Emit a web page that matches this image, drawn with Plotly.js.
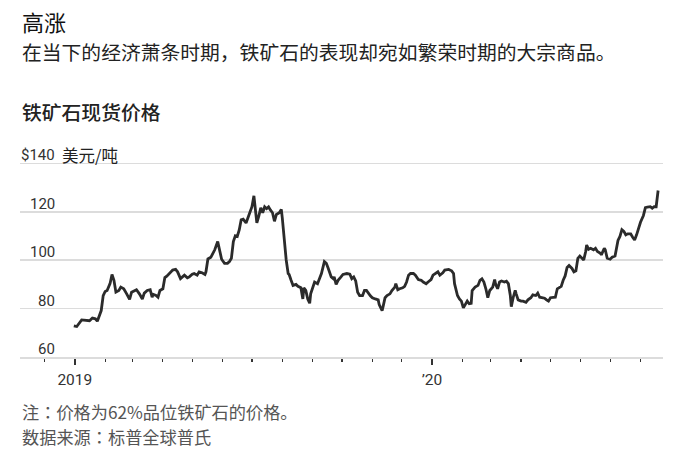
<!DOCTYPE html>
<html>
<head>
<meta charset="utf-8">
<script src="https://cdn.plot.ly/plotly-3.0.1.min.js"></script>
<style>
html,body{margin:0;padding:0;background:#fff;}
#chart{width:677px;height:465px;}
</style>
</head>
<body>
<div id="chart"></div>
<script>
// ---- data ----
const dates = [
'2018-12-31','2019-01-03','2019-01-08','2019-01-12','2019-01-16','2019-01-19','2019-01-22','2019-01-24','2019-01-26','2019-01-28',
'2019-01-30','2019-02-01','2019-02-03','2019-02-06','2019-02-08','2019-02-10','2019-02-12','2019-02-15','2019-02-17','2019-02-20',
'2019-02-23','2019-02-26','2019-02-28','2019-03-03','2019-03-05','2019-03-08','2019-03-11','2019-03-13','2019-03-16','2019-03-19',
'2019-03-21','2019-03-22','2019-03-25','2019-03-27','2019-03-29','2019-04-01','2019-04-03','2019-04-05','2019-04-08','2019-04-11',
'2019-04-14','2019-04-16','2019-04-19','2019-04-21','2019-04-23','2019-04-26','2019-04-28','2019-05-01','2019-05-03','2019-05-06',
'2019-05-08','2019-05-11','2019-05-14','2019-05-15','2019-05-17','2019-05-20','2019-05-23','2019-05-24','2019-05-27','2019-05-29',
'2019-05-31','2019-06-03','2019-06-06','2019-06-08','2019-06-10','2019-06-12','2019-06-14','2019-06-16','2019-06-18','2019-06-20',
'2019-06-22','2019-06-25','2019-06-27','2019-06-29','2019-07-01','2019-07-03','2019-07-04','2019-07-06','2019-07-08','2019-07-10',
'2019-07-12','2019-07-14','2019-07-16','2019-07-18','2019-07-20','2019-07-22','2019-07-24','2019-07-26','2019-07-29','2019-07-31',
'2019-08-01','2019-08-03','2019-08-05','2019-08-07','2019-08-08','2019-08-10','2019-08-12','2019-08-15','2019-08-17','2019-08-20',
'2019-08-22','2019-08-23','2019-08-25','2019-08-27','2019-08-29','2019-08-30','2019-09-02','2019-09-03','2019-09-06','2019-09-08',
'2019-09-10','2019-09-13','2019-09-15','2019-09-17','2019-09-20','2019-09-22','2019-09-23','2019-09-25','2019-09-27','2019-09-30',
'2019-10-02','2019-10-06','2019-10-09','2019-10-11','2019-10-13','2019-10-15','2019-10-17','2019-10-19','2019-10-22','2019-10-24',
'2019-10-26','2019-10-30','2019-11-01','2019-11-04','2019-11-07','2019-11-08','2019-11-11','2019-11-12','2019-11-14','2019-11-16',
'2019-11-19','2019-11-21','2019-11-24','2019-11-25','2019-11-27','2019-11-29','2019-12-02','2019-12-04','2019-12-06','2019-12-08',
'2019-12-10','2019-12-13','2019-12-15','2019-12-18','2019-12-21','2019-12-23','2019-12-26','2019-12-28','2019-12-31','2020-01-02',
'2020-01-05','2020-01-07','2020-01-09','2020-01-12','2020-01-14','2020-01-16','2020-01-18','2020-01-21','2020-01-23','2020-01-24',
'2020-01-27','2020-01-29','2020-01-31','2020-02-02','2020-02-04','2020-02-06','2020-02-08','2020-02-10','2020-02-11','2020-02-14',
'2020-02-17','2020-02-19','2020-02-21','2020-02-23','2020-02-25','2020-02-27','2020-02-29','2020-03-03','2020-03-05','2020-03-06',
'2020-03-08','2020-03-10','2020-03-12','2020-03-15','2020-03-17','2020-03-19','2020-03-21','2020-03-22','2020-03-24','2020-03-26',
'2020-03-27','2020-03-29','2020-04-01','2020-04-03','2020-04-06','2020-04-08','2020-04-11','2020-04-13','2020-04-16','2020-04-18',
'2020-04-20','2020-04-22','2020-04-25','2020-04-27','2020-04-29','2020-05-01','2020-05-04','2020-05-06','2020-05-08','2020-05-10',
'2020-05-12','2020-05-14','2020-05-16','2020-05-18','2020-05-20','2020-05-23','2020-05-25','2020-05-27','2020-05-29','2020-05-31',
'2020-06-02','2020-06-04','2020-06-06','2020-06-07','2020-06-09','2020-06-11','2020-06-14','2020-06-16','2020-06-18','2020-06-21',
'2020-06-22','2020-06-25','2020-06-26','2020-06-28','2020-07-01','2020-07-03','2020-07-06','2020-07-08','2020-07-09','2020-07-11',
'2020-07-13','2020-07-15','2020-07-17','2020-07-19','2020-07-22','2020-07-24','2020-07-26','2020-07-28','2020-07-30','2020-08-01',
'2020-08-04','2020-08-06','2020-08-08','2020-08-11','2020-08-13','2020-08-15','2020-08-17','2020-08-18','2020-08-19'
];
const prices = [
72.9,72.6,75.3,75.0,75.0,76.1,75.8,74.8,76.7,79.2,
85.4,87.1,87.5,90.3,94.1,91.7,86.8,87.5,88.9,88.2,
86.1,83.8,86.8,87.5,87.8,86.1,84.0,86.4,87.5,87.8,
84.7,85.9,85.4,84.7,87.5,88.2,92.8,93.4,94.8,95.9,
96.2,95.2,92.4,93.1,93.8,92.7,93.1,94.2,94.5,93.8,
95.2,94.8,94.1,95.2,100.5,101.2,103.6,104.3,107.7,104.5,
100.4,98.7,98.7,99.4,100.8,107.7,110.1,109.8,112.5,116.7,
117.0,115.4,117.5,119.9,122.1,126.6,123.1,115.4,118.2,121.7,
119.6,122.1,121.3,122.0,120.7,119.6,116.1,118.9,119.6,121.0,
117.5,108.4,100.1,94.5,94.1,91.7,89.6,90.0,89.2,88.6,
84.0,88.6,87.5,84.0,82.2,86.1,90.0,91.0,90.3,92.4,
94.5,99.4,98.7,96.6,93.1,92.4,93.1,90.0,91.7,93.1,
94.1,94.5,94.2,92.4,93.1,91.4,86.8,85.4,85.4,87.5,
87.5,85.3,84.5,84.0,83.6,81.7,79.2,80.8,84.5,85.4,
86.1,87.5,88.9,90.3,87.8,88.2,88.6,89.2,91.0,93.8,
94.5,94.5,93.8,92.0,91.7,91.0,90.3,91.0,92.0,93.8,
94.5,95.2,93.8,94.8,95.9,96.2,96.2,95.6,94.5,90.3,
85.4,84.0,83.1,80.3,81.9,83.1,82.0,82.2,87.5,88.9,
89.6,91.7,92.3,91.0,88.2,84.5,87.5,88.9,92.0,90.0,
88.2,91.0,91.4,91.0,91.3,90.3,85.4,80.8,84.7,87.5,
86.1,83.6,83.1,83.1,82.6,83.6,84.5,85.7,85.4,86.4,
84.7,84.5,84.3,83.6,83.1,84.5,84.7,84.7,88.2,88.6,
89.2,91.7,93.5,97.0,97.8,96.6,95.2,95.6,100.8,101.7,
101.0,100.1,103.6,106.3,104.5,104.9,104.3,104.9,103.6,102.9,
102.2,104.9,104.3,100.8,100.4,101.2,101.7,106.3,108.2,109.8,
112.6,111.9,110.5,110.9,110.9,109.5,108.4,110.5,113.3,115.7,
118.5,121.7,121.9,122.1,121.5,122.1,122.1,127.2,128.8
];
const yTickVals = [60, 80, 100, 120, 140];
const yTickText = ['60', '80', '100', '120', '$140'];
const yUnit = '美元/吨';
const xTickAlias = {'2020': '’20'};
const titleText = '高涨';
const subtitleText = '在当下的经济萧条时期，铁矿石的表现却宛如繁荣时期的大宗商品。';
const chartTitle = '铁矿石现货价格';
const noteText = '注：价格为62%品位铁矿石的价格。';
const sourceText = '数据来源：标普全球普氏';

// ---- layout helpers ----
const W = 677, H = 465;
const M = {l: 20, r: 14, t: 160.6, b: 108};
const plotH = H - M.t - M.b, plotW = W - M.l - M.r;
const py = p => (H - M.b - p) / plotH;   // pixel y -> paper y
const px = p => (p - M.l) / plotW;       // pixel x -> paper x

const cjk = '"Noto Sans CJK SC", "Noto Sans", sans-serif';
const cjkJP = '"Noto Sans CJK JP", "Noto Sans CJK SC", sans-serif';
const num = '"Liberation Sans Narrow", "Roboto", "Noto Sans CJK SC", sans-serif';

const annotations = [
  {text: titleText, x: px(20), y: py(20), font: {family: cjk, size: 22, color: '#111'}},
  {text: subtitleText, x: px(20), y: py(51), font: {family: cjk, size: 19.8, color: '#222'}},
  {text: chartTitle, x: px(20), y: py(111), font: {family: cjk, size: 19.8, color: '#222', weight: 500}},
  {text: noteText, x: px(20), y: py(412), font: {family: cjkJP, size: 17.2, color: '#555'}},
  {text: sourceText, x: px(20), y: py(437), font: {family: cjkJP, size: 17.2, color: '#555'}}
].map(a => Object.assign({xref: 'paper', yref: 'paper', xanchor: 'left', yanchor: 'middle', showarrow: false}, a));

yTickVals.forEach((v, i) => {
  annotations.push({
    xref: 'paper', yref: 'y', x: px(57), y: v, yshift: 8,
    xanchor: 'right', yanchor: 'middle', showarrow: false,
    text: yTickText[i], font: {family: num, size: 15, color: '#333'}
  });
});
annotations.push({
  xref: 'paper', yref: 'y', x: px(60), y: yTickVals[yTickVals.length - 1], yshift: 8,
  xanchor: 'left', yanchor: 'middle', showarrow: false,
  text: yUnit, font: {family: cjk, size: 16.5, color: '#222'}
});

const trace = {
  x: dates, y: prices, type: 'scatter', mode: 'lines',
  line: {color: '#2b2b2b', width: 2.8, shape: 'linear'},
  hoverinfo: 'skip'
};

const layout = {
  width: W, height: H,
  margin: M,
  paper_bgcolor: '#fff', plot_bgcolor: '#fff',
  showlegend: false,
  xaxis: {
    type: 'date',
    range: ['2018-11-06', '2020-08-24'],
    showgrid: false, zeroline: false,
    showline: true, linecolor: '#dcdcdc', linewidth: 1.5,
    tickmode: 'linear', tick0: '2019-01-01', dtick: 'M12',
    tickformat: '%Y', labelalias: xTickAlias,
    ticks: 'outside', ticklen: 6, tickwidth: 1.5, tickcolor: '#333',
    ticklabelstandoff: 2,
    tickfont: {family: num, size: 15.5, color: '#333'},
    minor: {tickmode: 'linear', tick0: '2019-01-01', dtick: 'M1', ticks: 'outside', ticklen: 3, tickwidth: 1.2, tickcolor: '#333', showgrid: false},
    fixedrange: true
  },
  yaxis: {
    range: [60, 141],
    tickmode: 'array', tickvals: yTickVals,
    showticklabels: false,
    showgrid: true, gridcolor: '#dcdcdc', gridwidth: 1.5,
    zeroline: false, showline: false, ticks: '',
    fixedrange: true
  },
  annotations: annotations
};

Plotly.newPlot('chart', [trace], layout, {displayModeBar: false, staticPlot: true});
</script>
</body>
</html>
